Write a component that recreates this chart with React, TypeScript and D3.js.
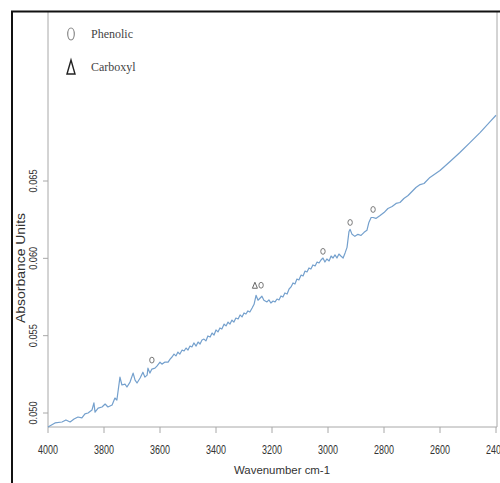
import React from "react";
import * as d3 from "d3";

const wavenumber = [
  4000,3975,3950,3936,3921,3907,3893,3879,3868,3857,3843,3836,3832,3821,3807,3796,3786,3771,3761,3754,3743,3736,3725,3718,3707,3696,3689,3682,3671,3661,3654,3646,3643,3636,3629,3618,3611,3600,3593,3582,3571,3564,
  3557,3550,3543,3536,3529,3521,3514,3507,3500,3493,3486,3479,3471,3464,3457,3450,3443,3436,3429,3421,3414,3407,3400,3393,3386,3379,3371,3364,3357,3350,3343,3336,3329,3321,3314,3307,3300,3293,3286,3279,3271,
  3264,3257,3250,3243,3236,3229,
  3218,3211,3204,3196,3189,3182,3175,3168,3161,3154,3146,3139,3132,3125,3118,3111,3104,3096,3089,3082,3075,3068,3061,3054,3046,3039,3032,3025,3018,3011,3004,2996,2989,2982,2975,2968,2961,2954,2946,2939,
  2932,2925,2921,2914,2904,2893,2882,2871,2861,2854,2846,2839,2829,2814,2800,2786,2771,2757,2743,2729,2714,2700,2686,2671,2657,2636,2600,2564,2529,2493,2457,2421,2400
];
const absorbance = [
  0.04910,0.04936,0.04942,0.04955,0.04942,0.04961,0.04974,0.04968,0.04994,0.05000,0.05019,0.05065,0.05006,0.05032,0.05039,0.05058,0.05039,0.05052,0.05097,0.05084,0.05232,0.05181,0.05187,0.05168,0.05200,0.05258,0.05213,0.05194,0.05226,0.05264,0.05232,0.05245,0.05290,0.05258,0.05284,0.05290,0.05303,0.05329,0.05316,0.05329,0.05329,0.05348,
  0.05362,0.05381,0.05369,0.05394,0.05381,0.05407,0.05401,0.05420,0.05407,0.05433,0.05427,0.05453,0.05433,0.05459,0.05446,0.05472,0.05478,0.05466,0.05498,0.05491,0.05517,0.05504,0.05537,0.05524,0.05550,0.05543,0.05575,0.05563,0.05588,0.05575,0.05601,0.05588,0.05614,0.05608,0.05634,0.05621,0.05647,0.05640,0.05660,0.05653,0.05679,
  0.05703,0.05761,0.05729,0.05742,0.05755,0.05729,
  0.05718,0.05731,0.05711,0.05724,0.05718,0.05737,0.05731,0.05757,0.05750,0.05776,0.05769,0.05802,0.05815,0.05841,0.05834,0.05866,0.05860,0.05892,0.05886,0.05918,0.05912,0.05938,0.05931,0.05957,0.05951,0.05976,0.05970,0.05989,0.06002,0.05976,0.05996,0.05983,0.06015,0.06002,0.06022,0.06002,0.06028,0.06015,0.06002,0.06035,
  0.06071,0.06174,0.06187,0.06155,0.06142,0.06155,0.06148,0.06168,0.06181,0.06232,0.06264,0.06264,0.06258,0.06277,0.06296,0.06322,0.06335,0.06355,0.06361,0.06387,0.06406,0.06432,0.06458,0.06477,0.06484,0.06523,0.06568,0.06626,0.06684,0.06748,0.06813,0.06884,0.06925
];

const phenolicWn = [3629, 3239, 3018, 2921, 2839];
const phenolicAbs = [0.05342, 0.05826, 0.06045, 0.06232, 0.06316];
const carboxylWn = [3261];
const carboxylAbs = [0.05826];

const xTicks = [4000, 3800, 3600, 3400, 3200, 3000, 2800, 2600, 2400];
const yTicks = [0.05, 0.055, 0.06, 0.065];

const legendLabels = ["Phenolic", "Carboxyl"];

export default function App() {
  const x = d3.scaleLinear().domain([4000, 2400]).range([48, 496]);
  const y = d3.scaleLinear().domain([0.05, 0.065]).range([413, 181]);
  const pts = wavenumber.map((w, i) => [w, absorbance[i]] as [number, number]);
  const line = d3.line<[number, number]>().x(d => x(d[0])).y(d => y(d[1]));
  const plotTop = 12, plotBottom = 427, plotLeft = 48, plotRight = 497;
  const axisColor = "#a8a8a8";
  const labelColor = "#333";
  return (
    <svg width={500} height={483} style={{ position: "absolute", left: 0, top: 0, background: "#fff" }}>
      <rect x={0} y={0} width={500} height={483} fill="#fff" />
      <line x1={plotLeft} x2={plotLeft} y1={plotTop} y2={plotBottom} stroke={axisColor} strokeWidth={1} />
      <line x1={plotRight} x2={plotRight} y1={plotTop} y2={plotBottom} stroke={axisColor} strokeWidth={1} />
      <line x1={plotLeft} x2={plotRight} y1={plotBottom} y2={plotBottom} stroke={axisColor} strokeWidth={1} />
      {xTicks.map(t => (
        <g key={t}>
          <line x1={x(t)} x2={x(t)} y1={plotBottom} y2={plotBottom + 6} stroke={axisColor} strokeWidth={1} />
          <text x={x(t)} y={454} textAnchor="middle" fontFamily="Liberation Sans, Arial, sans-serif" fontSize={12.5}
            fill={labelColor} textLength={20} lengthAdjust="spacingAndGlyphs">{t}</text>
        </g>
      ))}
      {yTicks.map(t => (
        <g key={t}>
          <line x1={plotLeft - 5} x2={plotLeft} y1={y(t)} y2={y(t)} stroke={axisColor} strokeWidth={1} />
          <text transform={`translate(37,${y(t)}) rotate(-90)`} textAnchor="middle" fontFamily="Liberation Sans, Arial, sans-serif"
            fontSize={11} fill={labelColor} textLength={23} lengthAdjust="spacingAndGlyphs">{t.toFixed(3)}</text>
        </g>
      ))}
      <text transform="translate(25,268) rotate(-90)" textAnchor="middle" fontFamily="Liberation Sans, Arial, sans-serif"
        fontSize={12} fill={labelColor} textLength={110} lengthAdjust="spacingAndGlyphs">Absorbance Units</text>
      <text x={282} y={474} textAnchor="middle" fontFamily="Liberation Sans, Arial, sans-serif" fontSize={11.5}
        fill={labelColor} textLength={96} lengthAdjust="spacingAndGlyphs">Wavenumber cm-1</text>
      <path d={line(pts) || ""} fill="none" stroke="#74a0cd" strokeWidth={1.2} strokeLinejoin="round" />
      {phenolicWn.map((w, i) => (
        <ellipse key={"p" + i} cx={x(w)} cy={y(phenolicAbs[i])} rx={2.2} ry={2.9} fill="none" stroke="#777" strokeWidth={1} />
      ))}
      {carboxylWn.map((w, i) => {
        const cx = x(w), cy = y(carboxylAbs[i]);
        return <polygon key={"c" + i} points={`${cx - 2.5},${cy + 3} ${cx},${cy - 3} ${cx + 2.5},${cy + 3}`} fill="none" stroke="#666" strokeWidth={1} />;
      })}
      <ellipse cx={71} cy={34} rx={3.3} ry={6} fill="none" stroke="#888" strokeWidth={1.2} />
      <text x={91} y={38} fontFamily="Liberation Serif, Times New Roman, serif" fontSize={12} fill="#444">{legendLabels[0]}</text>
      <polygon points="67,74 71,60 75,74" fill="none" stroke="#222" strokeWidth={1.4} />
      <text x={91} y={71} fontFamily="Liberation Serif, Times New Roman, serif" fontSize={12} fill="#444">{legendLabels[1]}</text>
      <line x1={11} x2={500} y1={11.5} y2={11.5} stroke="#111" strokeWidth={2} />
      <line x1={12} x2={12} y1={11} y2={483} stroke="#111" strokeWidth={2} />
    </svg>
  );
}
